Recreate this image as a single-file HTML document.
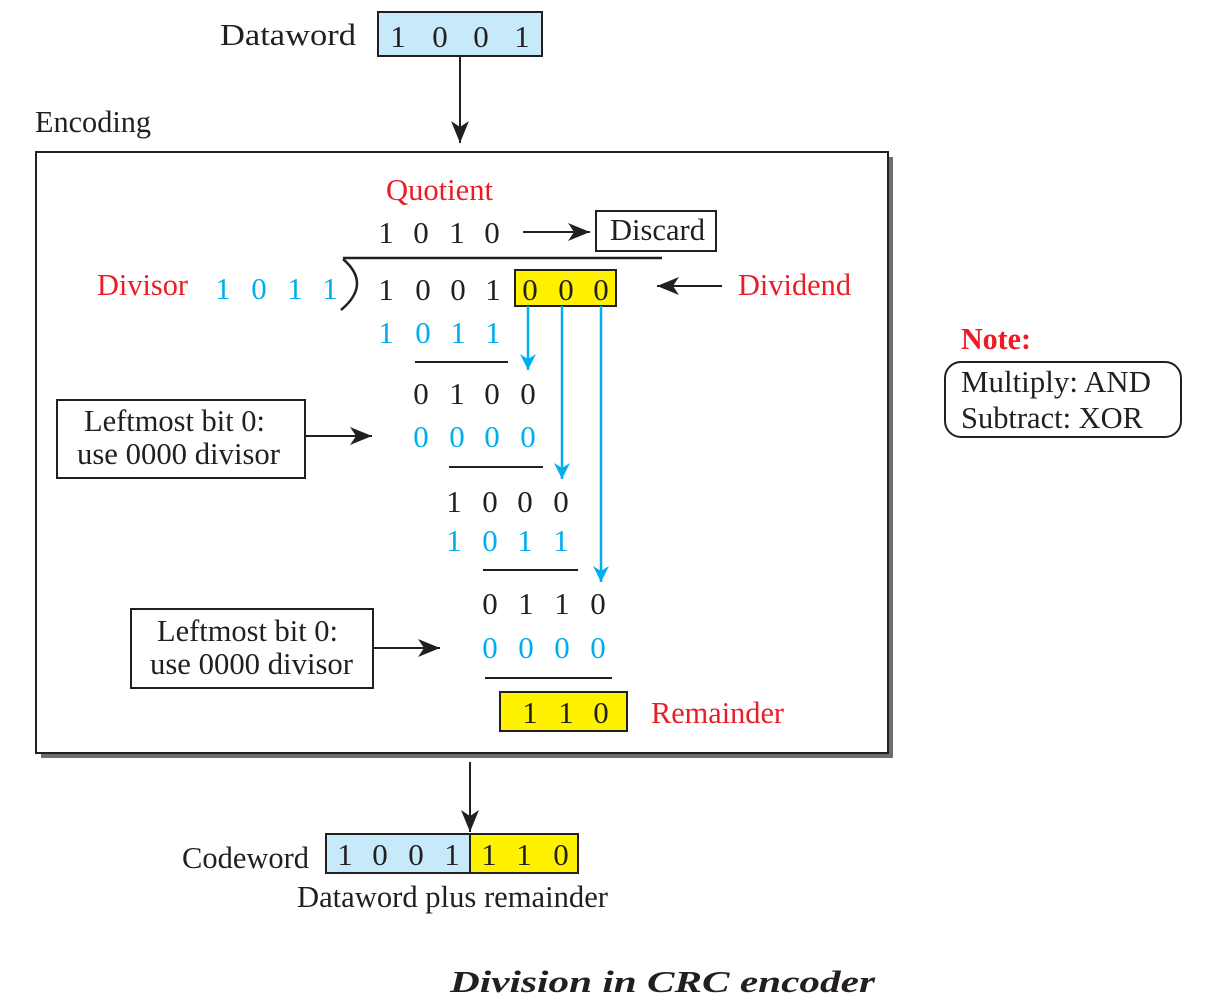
<!DOCTYPE html>
<html><head><meta charset="utf-8"><style>
html,body{margin:0;padding:0;background:#fff}
svg{display:block}
text{font-family:"Liberation Serif",serif;font-size:31px;fill:#231f20}
.b{fill:#00aeef}.r{fill:#ed1c24}
.m{text-anchor:middle}
</style></head><body>
<svg width="1229" height="1000" viewBox="0 0 1229 1000" xmlns="http://www.w3.org/2000/svg">
<defs>
<marker id="ab" markerWidth="20" markerHeight="20" refX="16" refY="8" orient="auto" markerUnits="userSpaceOnUse"><path d="M0,0 L16,8 L0,16 L5,8 Z" fill="#00aeef"/></marker>
<marker id="ak2" markerWidth="24" markerHeight="20" refX="22" refY="9" orient="auto" markerUnits="userSpaceOnUse"><path d="M0,0 L22,9 L0,18 L6,9 Z" fill="#231f20"/></marker>
</defs>

<text x="220" y="45" font-size="34" textLength="136" lengthAdjust="spacingAndGlyphs">Dataword</text>
<rect x="378" y="12" width="164" height="44" fill="#c6eafa" stroke="#231f20" stroke-width="2"/>
<text x="398" y="47" class="m" font-size="33">1</text><text x="440" y="47" class="m" font-size="33">0</text><text x="481" y="47" class="m" font-size="33">0</text><text x="522" y="47" class="m" font-size="33">1</text>
<line x1="460" y1="56" x2="460" y2="143" stroke="#231f20" stroke-width="2" marker-end="url(#ak2)"/>

<text x="35" y="132" font-size="31" textLength="116" lengthAdjust="spacingAndGlyphs">Encoding</text>

<rect x="41" y="157" width="852" height="601" fill="#6d6e71"/>
<rect x="36" y="152" width="852" height="601" fill="#fff" stroke="#231f20" stroke-width="2"/>

<text x="386" y="200" class="r" textLength="107" lengthAdjust="spacingAndGlyphs">Quotient</text>
<text x="386" y="243" class="m">1</text><text x="421" y="243" class="m">0</text><text x="457" y="243" class="m">1</text><text x="492" y="243" class="m">0</text>
<line x1="523" y1="232" x2="590" y2="232" stroke="#231f20" stroke-width="2" marker-end="url(#ak2)"/>
<rect x="596" y="211" width="120" height="40" fill="#fff" stroke="#231f20" stroke-width="2"/>
<text x="610" y="240" textLength="95" lengthAdjust="spacingAndGlyphs">Discard</text>

<line x1="343" y1="258" x2="662" y2="258" stroke="#231f20" stroke-width="2.5"/>
<path d="M343,259 Q372,284 341,310" fill="none" stroke="#231f20" stroke-width="2.5"/>

<text x="97" y="295" class="r" textLength="91" lengthAdjust="spacingAndGlyphs">Divisor</text>
<text x="223" y="299" class="b m">1</text><text x="259" y="299" class="b m">0</text><text x="295" y="299" class="b m">1</text><text x="330" y="299" class="b m">1</text>

<text x="386" y="300" class="m">1</text><text x="423" y="300" class="m">0</text><text x="458" y="300" class="m">0</text><text x="493" y="300" class="m">1</text>
<rect x="515" y="270" width="101" height="36" fill="#fff200" stroke="#231f20" stroke-width="2"/>
<text x="530" y="300" class="m">0</text><text x="566" y="300" class="m">0</text><text x="601" y="300" class="m">0</text>
<line x1="722" y1="286" x2="657" y2="286" stroke="#231f20" stroke-width="2" marker-end="url(#ak2)"/>
<text x="738" y="295" class="r" textLength="113" lengthAdjust="spacingAndGlyphs">Dividend</text>

<text x="386" y="343" class="b m">1</text><text x="423" y="343" class="b m">0</text><text x="458" y="343" class="b m">1</text><text x="493" y="343" class="b m">1</text>
<line x1="415" y1="362" x2="508" y2="362" stroke="#231f20" stroke-width="2"/>

<text x="421" y="404" class="m">0</text><text x="457" y="404" class="m">1</text><text x="492" y="404" class="m">0</text><text x="528" y="404" class="m">0</text>
<text x="421" y="447" class="b m">0</text><text x="457" y="447" class="b m">0</text><text x="492" y="447" class="b m">0</text><text x="528" y="447" class="b m">0</text>
<line x1="449" y1="467" x2="543" y2="467" stroke="#231f20" stroke-width="2"/>

<text x="454" y="512" class="m">1</text><text x="490" y="512" class="m">0</text><text x="525" y="512" class="m">0</text><text x="561" y="512" class="m">0</text>
<text x="454" y="551" class="b m">1</text><text x="490" y="551" class="b m">0</text><text x="525" y="551" class="b m">1</text><text x="561" y="551" class="b m">1</text>
<line x1="483" y1="570" x2="578" y2="570" stroke="#231f20" stroke-width="2"/>

<text x="490" y="614" class="m">0</text><text x="526" y="614" class="m">1</text><text x="562" y="614" class="m">1</text><text x="598" y="614" class="m">0</text>
<text x="490" y="658" class="b m">0</text><text x="526" y="658" class="b m">0</text><text x="562" y="658" class="b m">0</text><text x="598" y="658" class="b m">0</text>
<line x1="485" y1="678" x2="612" y2="678" stroke="#231f20" stroke-width="2"/>

<rect x="500" y="692" width="127" height="39" fill="#fff200" stroke="#231f20" stroke-width="2"/>
<text x="530" y="723" class="m">1</text><text x="566" y="723" class="m">1</text><text x="601" y="723" class="m">0</text>
<text x="651" y="723" class="r" textLength="133" lengthAdjust="spacingAndGlyphs">Remainder</text>

<line x1="528" y1="306" x2="528" y2="370" stroke="#00aeef" stroke-width="2.5" marker-end="url(#ab)"/>
<line x1="562" y1="306" x2="562" y2="479" stroke="#00aeef" stroke-width="2.5" marker-end="url(#ab)"/>
<line x1="601" y1="306" x2="601" y2="582" stroke="#00aeef" stroke-width="2.5" marker-end="url(#ab)"/>

<rect x="57" y="400" width="248" height="78" fill="#fff" stroke="#231f20" stroke-width="2"/>
<text x="84" y="431" textLength="181" lengthAdjust="spacingAndGlyphs">Leftmost bit 0:</text>
<text x="77" y="464" textLength="203" lengthAdjust="spacingAndGlyphs">use 0000 divisor</text>
<line x1="305" y1="436" x2="372" y2="436" stroke="#231f20" stroke-width="2" marker-end="url(#ak2)"/>

<rect x="131" y="609" width="242" height="79" fill="#fff" stroke="#231f20" stroke-width="2"/>
<text x="157" y="641" textLength="181" lengthAdjust="spacingAndGlyphs">Leftmost bit 0:</text>
<text x="150" y="674" textLength="203" lengthAdjust="spacingAndGlyphs">use 0000 divisor</text>
<line x1="373" y1="648" x2="440" y2="648" stroke="#231f20" stroke-width="2" marker-end="url(#ak2)"/>

<text x="961" y="349" class="r" font-weight="bold" textLength="70" lengthAdjust="spacingAndGlyphs">Note:</text>
<rect x="945" y="362" width="236" height="75" rx="16" fill="#fff" stroke="#231f20" stroke-width="2"/>
<text x="961" y="392" textLength="190" lengthAdjust="spacingAndGlyphs">Multiply: AND</text>
<text x="961" y="428" textLength="182" lengthAdjust="spacingAndGlyphs">Subtract: XOR</text>

<line x1="470" y1="762" x2="470" y2="832" stroke="#231f20" stroke-width="2" marker-end="url(#ak2)"/>
<text x="182" y="868" textLength="127" lengthAdjust="spacingAndGlyphs">Codeword</text>
<rect x="326" y="834" width="144" height="39" fill="#c6eafa" stroke="#231f20" stroke-width="2"/>
<rect x="470" y="834" width="108" height="39" fill="#fff200" stroke="#231f20" stroke-width="2"/>
<text x="345" y="865" class="m">1</text><text x="380" y="865" class="m">0</text><text x="416" y="865" class="m">0</text><text x="452" y="865" class="m">1</text>
<text x="489" y="865" class="m">1</text><text x="524" y="865" class="m">1</text><text x="561" y="865" class="m">0</text>
<text x="297" y="907" textLength="311" lengthAdjust="spacingAndGlyphs">Dataword plus remainder</text>

<text x="450" y="992" font-weight="bold" font-style="italic" font-size="46" textLength="425" lengthAdjust="spacingAndGlyphs">Division in CRC encoder</text>
</svg>
</body></html>
